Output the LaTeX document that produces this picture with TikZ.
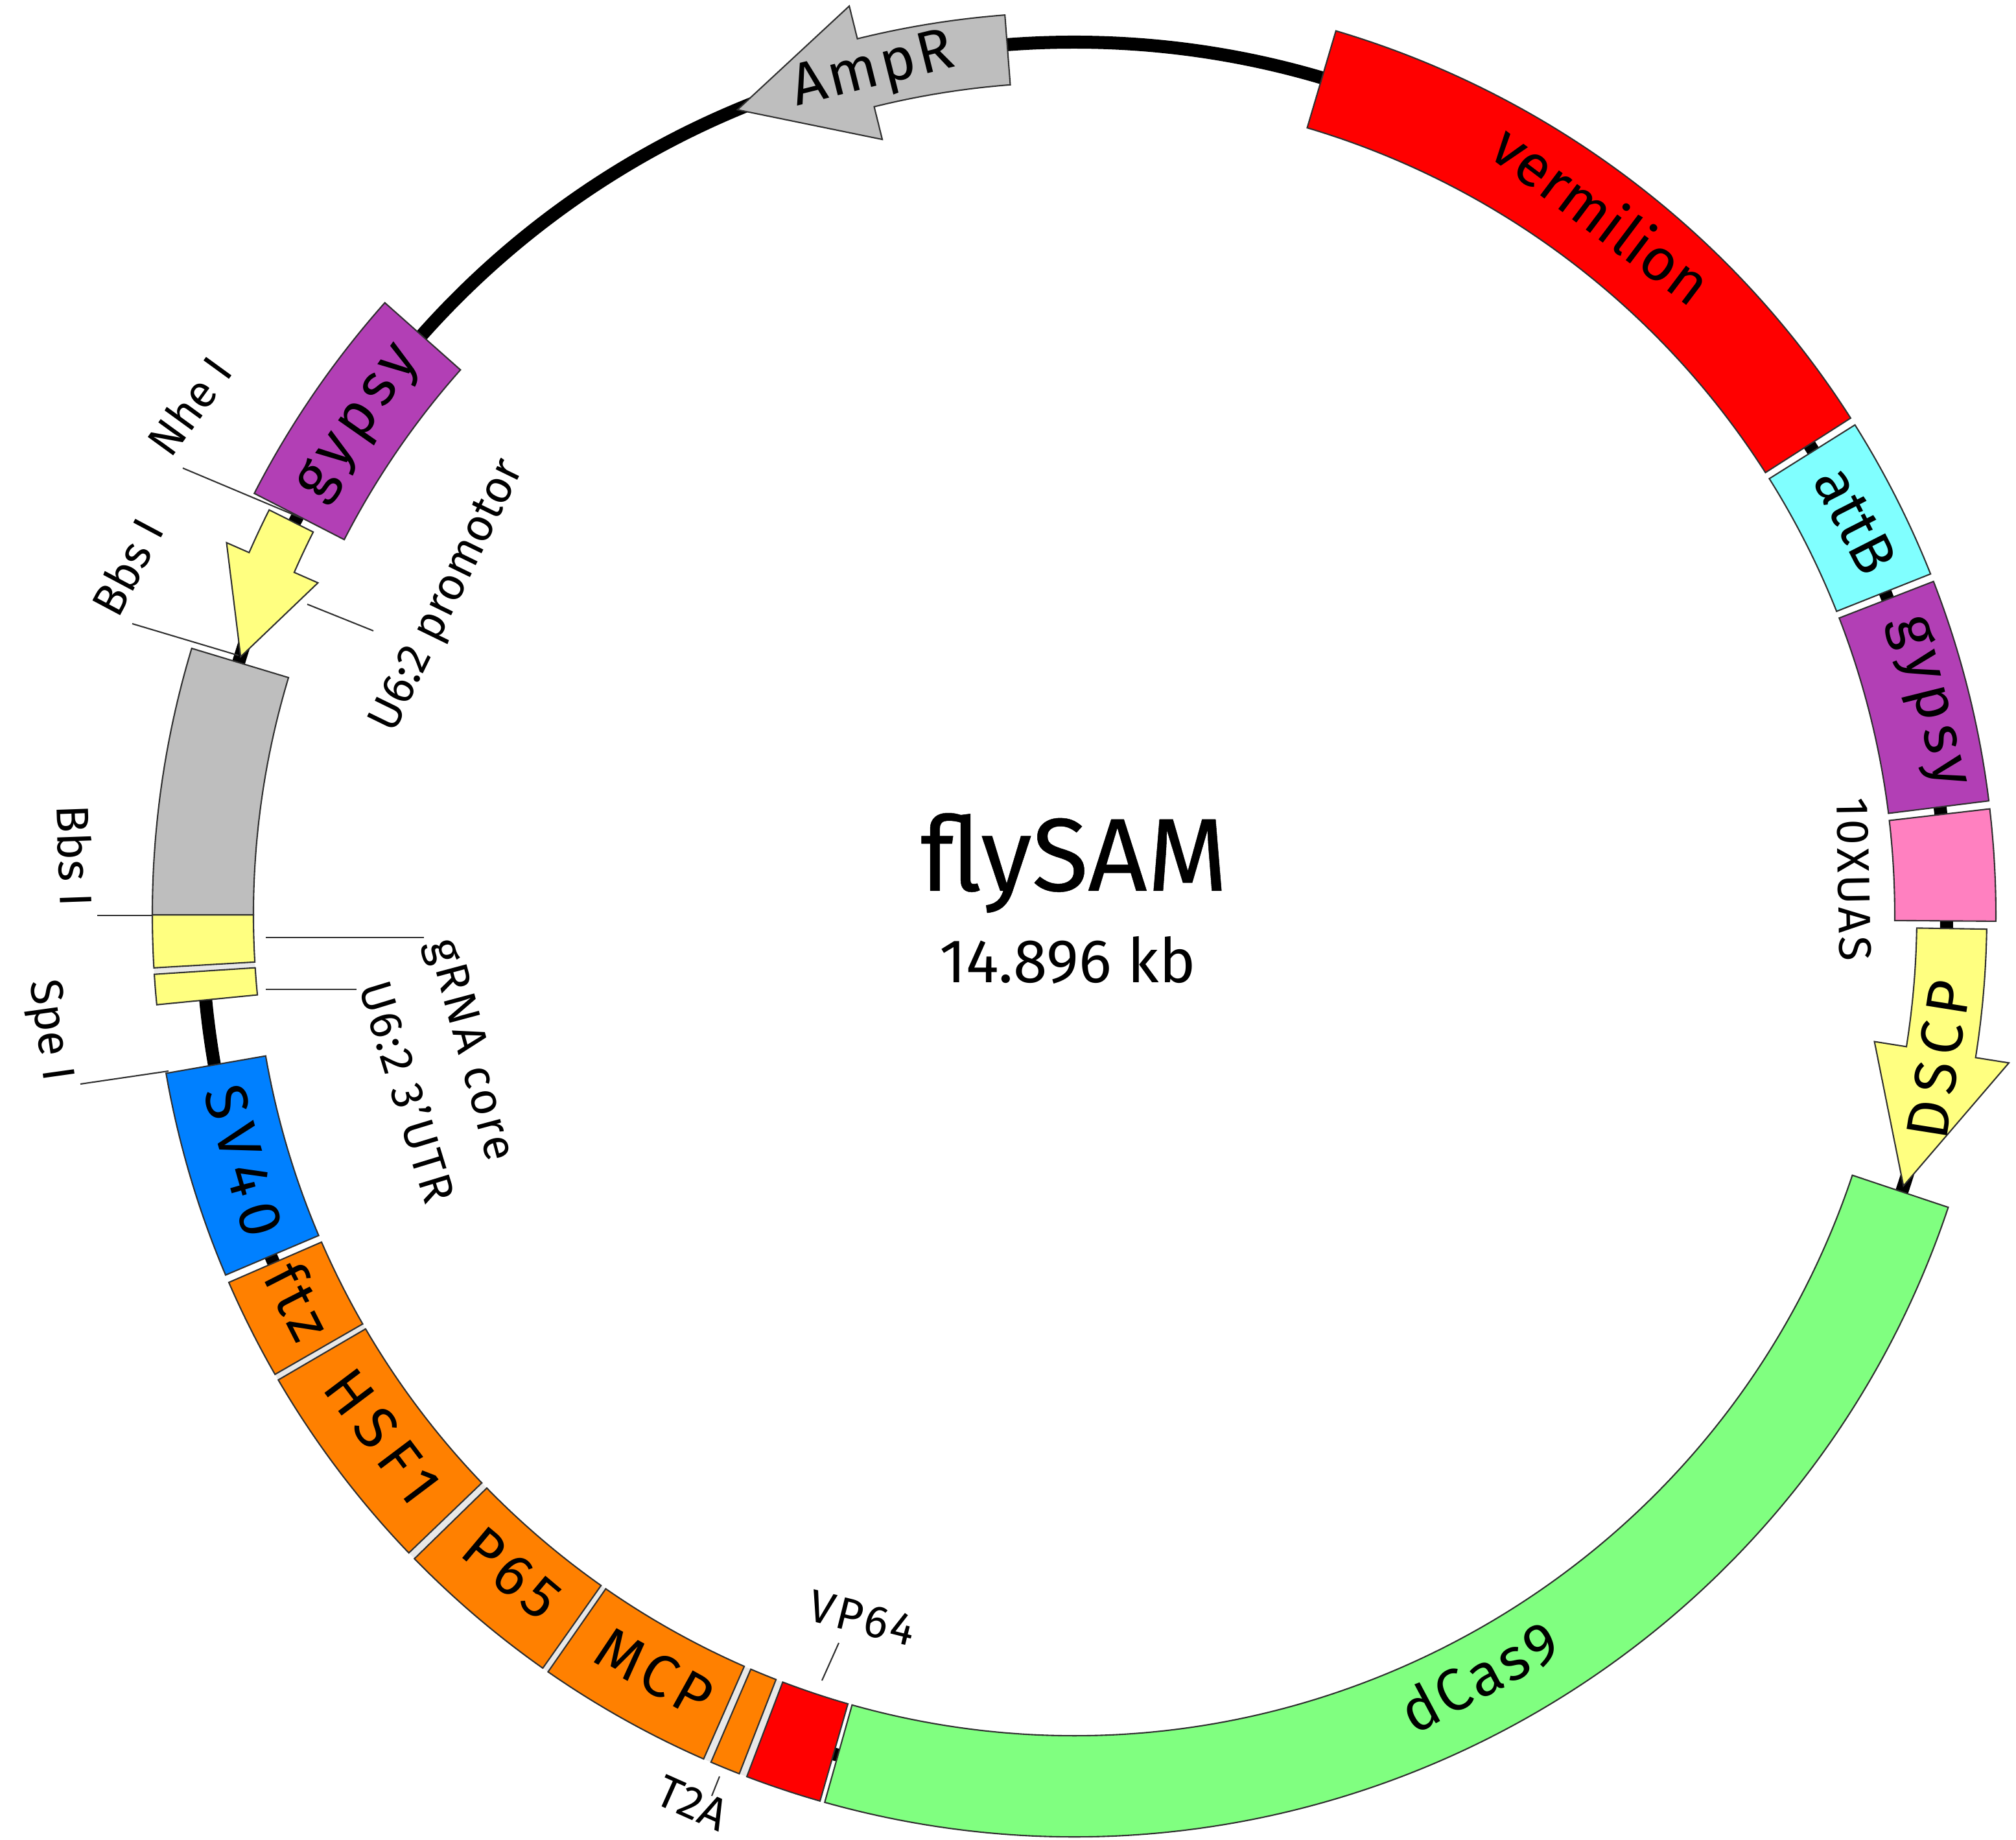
\documentclass[tikz,border=0pt]{standalone}
\usepackage{fontspec}
\setmainfont{Fira Sans}

\definecolor{vermred}{HTML}{FF0000}
\definecolor{attbcyan}{HTML}{80FFFF}
\definecolor{gypsypurple}{HTML}{B23FB5}
\definecolor{uaspink}{HTML}{FF80C0}
\definecolor{promyellow}{HTML}{FFFF80}
\definecolor{backgrey}{HTML}{BEBEBE}
\definecolor{polyblue}{HTML}{0080FF}
\definecolor{samorange}{HTML}{FF8000}
\definecolor{casgreen}{HTML}{80FF80}
\definecolor{gapgrey}{HTML}{E8E8E8}
\definecolor{edgegrey}{HTML}{303030}

\tikzset{
 partedge/.style={draw=edgegrey, line width=.6pt},
 partname/.style={font=\fontsize{26}{30}\selectfont, inner sep=0pt},
 sitename/.style={font=\fontsize{20}{22}\selectfont, inner sep=0pt},
 leader/.style={draw=edgegrey, line width=.6pt}
}

% one block of the ring: from angle, to angle, colour
\newcommand{\ringpart}[3]{
 \draw[partedge, fill=#3] (#1:711) arc[start angle=#1, end angle=#2, radius=711]
   -- (#2:633) arc[start angle=#2, end angle=#1, radius=633] -- cycle;
}
% arrow on the ring: tail, neck, tip angle, shaft radii, head radii, colour
\newcommand{\ringarrow}[8]{
 \draw[partedge, fill=#8] (#1:#5) arc[start angle=#1, end angle=#2, radius=#5]
   -- (#2:#7) -- (#3:673) -- (#2:#6) -- (#2:#4)
   arc[start angle=#2, end angle=#1, radius=#4] -- cycle;
}
\newcommand{\spaced}[1]{\addfontfeature{LetterSpace=#1}}

\begin{document}
\begin{tikzpicture}[x=.02cm,y=.02cm]
 \useasboundingbox (-828.5,-713.5) rectangle (726.5,705.5);

 \draw[line width=5.7pt] (0,0) circle [radius=673]; % the plasmid

 % the light seams of the two joined stretches
 \fill[gapgrey] (209.5:711) arc[start angle=209.5, end angle=249.5, radius=711]
   -- (249.5:633) arc[start angle=249.5, end angle=209.5, radius=633] -- cycle;
 \fill[gapgrey] (183:711) arc[start angle=183, end angle=184, radius=711]
   -- (184:633) arc[start angle=184, end angle=183, radius=633] -- cycle;

 \ringpart{73.5}{32.6}{vermred}
 \ringpart{32.1}{21.7}{attbcyan}
 \ringpart{21.2}{7.1}{gypsypurple}
 \ringpart{6.6}{-0.4}{uaspink}
 \ringpart{-18.5}{-105.7}{casgreen}
 \ringpart{249.2}{254.0}{vermred}
 \ringpart{246.8}{248.7}{samorange}
 \ringpart{235.2}{246.3}{samorange}
 \ringpart{224.3}{234.8}{samorange}
 \ringpart{210.3}{223.8}{samorange}
 \ringpart{203.5}{209.9}{samorange}
 \ringpart{189.9}{203.0}{polyblue}
 \ringpart{183.7}{185.6}{promyellow}
 \ringpart{180}{183.3}{promyellow}
 \ringpart{163.2}{180}{backgrey}
 \ringpart{138.4}{152.8}{gypsypurple}

 \ringarrow{-0.9}{-9}{-18.1}{650}{704}{625}{730}{promyellow}
 \ringarrow{153.3}{156.3}{162.8}{657}{695}{637}{714}{promyellow}
 \ringarrow{94.4}{103.9}{112.7}{642}{696}{616}{722}{backgrey}

 % names on the parts
 \node[partname, rotate=-37] (vermilion) at (53:677) {vermilion};
 \node[partname, rotate=-63] (attb) at (26.8:675) {attB};
 \node[partname, rotate=-76] (gypsyright) at (14:678) {\spaced{10}gypsy};
 \node[partname, rotate=81] (dscp) at (-9.5:676) {\spaced{12}DSCP};
 \node[partname, rotate=28] (dcas) at (298:665) {\spaced{5}dCas9};
 \node[partname, rotate=-29] (mcp) at (241:668) {\spaced{8}MCP};
 \node[partname, rotate=-40] (pgene) at (229.5:668) {\spaced{10}P65};
 \node[partname, rotate=-53] (hsf) at (217:668) {\spaced{14}HSF1};
 \node[partname, rotate=-63] (ftz) at (206.5:668) {\spaced{8}ftz};
 \node[partname, rotate=-74] (sv) at (196.5:668) {\spaced{15}SV40};
 \node[partname, rotate=55] (gypsyleft) at (145.5:668) {\spaced{10}gypsy};
 \node[partname, rotate=14] (ampr) at (103.4:668) {\spaced{5}AmpR};

 % names of the sites
 \node[sitename, rotate=54] (nhe) at (-682.5,392.5) {Nhe I};
 \node[sitename, rotate=62] (bbstop) at (-730.5,268.5) {Bbs I};
 \node[sitename, rotate=-88] (bbsleft) at (-770.5,45.5) {Bbs I};
 \node[sitename, rotate=-82] (spe) at (-791.5,-89.5) {Spe I};
 \node[sitename, rotate=64] (promotor) at (-482.5,245.5) {U6:2 promotor};
 \node[sitename, rotate=-75] (grna) at (-467,-104.5) {\spaced{6}gRNA core};
 \node[sitename, rotate=-73] (utr) at (-513.5,-136.5) {\spaced{4}U6:2 3'UTR};
 \node[sitename, rotate=-89] (uas) at (601.5,27.5) {\spaced{6}10XUAS};
 \node[sitename, rotate=-14] (vp) at (-163.5,-542.5) {\spaced{6}VP64};
 \node[sitename, rotate=-24] (ttwoa) at (-294.5,-685) {T2A};

 % ends of the site lines
 \coordinate (nheA) at (-687.5,344.5);
 \coordinate (nheB) at (-596,306);
 \coordinate (bbstopA) at (-726.5,224.5);
 \coordinate (bbstopB) at (-644.5,200);
 \coordinate (bbsleftA) at (-753.5,-0.5);
 \coordinate (bbsleftB) at (-710.5,-0.5);
 \coordinate (speA) at (-766.5,-130.5);
 \coordinate (speB) at (-698.5,-120.5);
 \coordinate (promA) at (-591.5,239.5);
 \coordinate (promB) at (-540.5,219);
 \coordinate (grnaA) at (-623.5,-17.5);
 \coordinate (grnaB) at (-501.5,-17.5);
 \coordinate (utrA) at (-623.5,-57.5);
 \coordinate (utrB) at (-553.5,-57.5);
 \coordinate (vpA) at (-181.5,-561.5);
 \coordinate (vpB) at (-194.5,-590.5);
 \coordinate (ttwoaA) at (-273.5,-664.5);
 \coordinate (ttwoaB) at (-279.5,-679.5);

 \draw[leader] (nheA)--(nheB);
 \draw[leader] (bbstopA)--(bbstopB);
 \draw[leader] (bbsleftA)--(bbsleftB);
 \draw[leader] (speA)--(speB);
 \draw[leader] (promA)--(promB);
 \draw[leader] (grnaA)--(grnaB);
 \draw[leader] (utrA)--(utrB);
 \draw[leader] (vpA)--(vpB);
 \draw[leader] (ttwoaA)--(ttwoaB);

 % the title in the middle
 \node[font=\fontsize{45.5}{50}\selectfont\addfontfeature{FakeBold=.3}, inner sep=0pt] (title) at (0,40) {flySAM};
 \node[font=\fontsize{27}{30}\selectfont, inner sep=0pt] (size) at (-5,-35) {14.896 kb};
\end{tikzpicture}
\end{document}
